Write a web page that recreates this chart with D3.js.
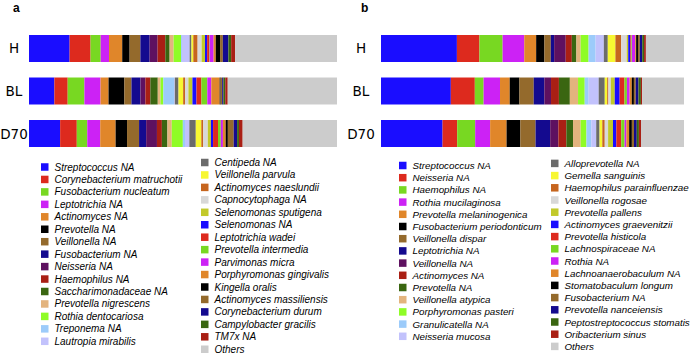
<!DOCTYPE html>
<html>
    <head>
        <meta charset="UTF-8">
        <script src="https://d3js.org/d3.v7.min.js"></script>
        <style>
            body { margin: 0; background: #fff; }
        </style>
    </head>

    <body>

        <svg id="canvas"></svg>

        <script>

            width = 691;
            height = 355;

            samples = ["H", "BL", "D70"];

            // panel a taxa (last one is Others)
            taxaA = ["Streptococcus NA", "Corynebacterium matruchotii", "Fusobacterium nucleatum", "Leptotrichia NA",
                "Actinomyces NA", "Prevotella NA", "Veillonella NA", "Fusobacterium NA", "Neisseria NA", "Haemophilus NA",
                "Saccharimonadaceae NA", "Prevotella nigrescens", "Rothia dentocariosa", "Treponema NA", "Lautropia mirabilis",
                "Centipeda NA", "Veillonella parvula", "Actinomyces naeslundii", "Capnocytophaga NA", "Selenomonas sputigena",
                "Selenomonas NA", "Leptotrichia wadei", "Prevotella intermedia", "Parvimonas micra", "Porphyromonas gingivalis",
                "Kingella oralis", "Actinomyces massiliensis", "Corynebacterium durum", "Campylobacter gracilis", "TM7x NA", "Others"];

            a_H   = [13.2, 6.8, 3.3, 2.7, 4.3, 2.4, 3.5, 3.0, 2.6, 2.5, 1.4, 1.3, 2.4, 0.3, 2.5,
                     0.6, 0.6, 1.4, 1.3, 1.1, 0.7, 0.6, 0.2, 1.3, 0.7, 1.4, 0.9, 1.8, 0.9, 1.3, 33.1];
            a_BL  = [8.2, 4.3, 5.4, 5.2, 2.6, 5.1, 2.3, 2.9, 1.6, 1.6, 2.4, 0.9, 0.9, 3.5, 0.2,
                     1.2, 1.5, 0.6, 1.1, 1.3, 1.3, 1.6, 1.9, 1.3, 2.7, 0.3, 0.5, 0.4, 0.6, 0.8, 35.3];
            a_D70 = [10.1, 5.4, 3.4, 4.2, 5.0, 3.7, 3.9, 2.3, 3.5, 1.6, 1.8, 1.4, 3.6, 0.7, 1.4,
                     2.1, 1.8, 0.6, 1.5, 1.0, 0.7, 1.6, 0.9, 0.7, 0.9, 0.7, 1.9, 1.1, 0.6, 1.2, 30.6];

            // panel b taxa
            taxaB = ["Streptococcus NA", "Neisseria NA", "Haemophilus NA", "Rothia mucilaginosa", "Prevotella melaninogenica",
                "Fusobacterium periodonticum", "Veillonella dispar", "Leptotrichia NA", "Veillonella NA", "Actinomyces NA",
                "Prevotella NA", "Veillonella atypica", "Porphyromonas pasteri", "Granulicatella NA", "Neisseria mucosa",
                "Alloprevotella NA", "Gemella sanguinis", "Haemophilus parainfluenzae", "Veillonella rogosae", "Prevotella pallens",
                "Actinomyces graevenitzii", "Prevotella histicola", "Lachnospiraceae NA", "Rothia NA", "Lachnoanaerobaculum NA",
                "Stomatobaculum longum", "Fusobacterium NA", "Prevotella nanceiensis", "Peptostreptococcus stomatis", "Oribacterium sinus", "Others"];

            b_H   = [24.9, 7.4, 7.6, 7.1, 3.9, 2.7, 2.1, 1.1, 3.8, 2.0, 1.5, 1.4, 2.6, 2.3, 2.7,
                     1.3, 2.5, 1.9, 1.8, 0.5, 0.7, 0.3, 0.2, 1.1, 0.3, 0.6, 0.6, 0.8, 0.6, 0.6, 12.5];
            b_BL  = [23.0, 7.9, 2.9, 5.4, 3.2, 3.2, 4.7, 3.5, 2.2, 2.6, 3.6, 2.7, 2.2, 1.3, 3.3,
                     2.0, 0.8, 0.4, 0.8, 1.3, 1.6, 1.6, 0.8, 0.9, 0.7, 0.7, 0.6, 0.9, 0.8, 0.4, 13.8];
            b_D70 = [20.2, 4.8, 5.9, 4.9, 5.4, 4.5, 5.0, 4.8, 2.7, 2.6, 2.2, 2.5, 1.9, 1.6, 1.6,
                     1.1, 0.9, 0.8, 1.1, 1.6, 1.1, 1.6, 1.1, 0.6, 0.9, 0.9, 0.7, 0.9, 0.7, 0.7, 14.1];

            palette = ["#1a0dff", "#dd2a1e", "#78d822", "#cc22f5", "#e0862a", "#000000", "#946a2c", "#140a8f",
                "#5e1160", "#a91f14", "#3a6611", "#e3b47e", "#8ffc26", "#9ccbfa", "#c2c2fc",
                "#6b6b6b", "#f7f732", "#c6651e", "#d8d8d8", "#c2c92a",
                "#1a0dff", "#dd2a1e", "#78d822", "#cc22f5", "#e0862a", "#000000", "#946a2c", "#140a8f",
                "#3a6611", "#a91f14", "#cccccc"];

            canvas = d3.select("#canvas")
                .attr("width", width)
                .attr("height", height)
                .style("font-family", "'Liberation Sans', Arial, sans-serif");

            function drawPanel(opt) {
                g = canvas.append("g");

                g.append("text")
                    .attr("x", opt.labelX)
                    .attr("y", 12)
                    .style("font-weight", "bold")
                    .style("font-size", "12px")
                    .text(opt.letter);

                rows = samples.map((s, i) => {
                    vals = opt.values[i];
                    total = d3.sum(vals);
                    acc = 0;
                    return vals.map((v, j) => {
                        seg = { sample: s, k: j, x0: acc / total * 100, x1: (acc + v) / total * 100 };
                        acc += v;
                        return seg;
                    });
                });

                x = d3.scaleLinear().domain([0, 100]).range([opt.x0, opt.x1]);
                y = d3.scaleBand().domain(samples).range([35, 147]).paddingInner(0.365).paddingOuter(0);

                g.selectAll("g.bar")
                    .data(rows)
                    .enter()
                        .append("g")
                        .selectAll("rect")
                        .data(d => d)
                        .enter()
                            .append("rect")
                                .attr("x", d => x(d.x0))
                                .attr("width", d => x(d.x1) - x(d.x0))
                                .attr("y", d => y(d.sample))
                                .attr("height", y.bandwidth())
                                .style("fill", d => palette[d.k]);

                g.selectAll("text.sample")
                    .data(samples)
                    .enter()
                        .append("text")
                            .attr("class", "sample")
                            .attr("x", opt.sampleX)
                            .attr("y", d => y(d) + y.bandwidth() / 2)
                            .attr("text-anchor", "middle")
                            .attr("dominant-baseline", "central")
                            .style("font-family", "'DejaVu Sans', sans-serif")
                            .style("font-size", "13.5px")
                            .text(d => d);

                // legend: 15 in the first column, rest in the second
                leg = g.selectAll("g.leg")
                    .data(opt.taxa)
                    .enter()
                        .append("g")
                        .attr("transform", (d, i) => {
                            col = i < 15 ? 0 : 1;
                            row = i < 15 ? i : i - 15;
                            lx = opt.legX[col];
                            ly = opt.legY[col] + row * opt.legStep;
                            return "translate(" + lx + "," + ly + ")";
                        });

                leg.append("rect")
                    .attr("x", 0)
                    .attr("y", -3.75)
                    .attr("width", 7.5)
                    .attr("height", 7.5)
                    .style("fill", (d, i) => palette[i]);

                leg.append("text")
                    .attr("x", 13.5)
                    .attr("y", 0)
                    .attr("dominant-baseline", "central")
                    .style("font-size", opt.legFont)
                    .style("font-style", "italic")
                    .text(d => d);
            }

            drawPanel({
                letter: "a", labelX: 13, sampleX: 14,
                x0: 29, x1: 337,
                values: [a_H, a_BL, a_D70],
                taxa: taxaA,
                legX: [41, 201], legY: [167, 162.5], legStep: 12.45, legFont: "10px"
            });

            drawPanel({
                letter: "b", labelX: 361, sampleX: 361,
                x0: 381, x1: 684,
                values: [b_H, b_BL, b_D70],
                taxa: taxaB,
                legX: [399, 551], legY: [165.5, 163.4], legStep: 12.2, legFont: "9.8px"
            });

        </script>

    </body>

</html>
